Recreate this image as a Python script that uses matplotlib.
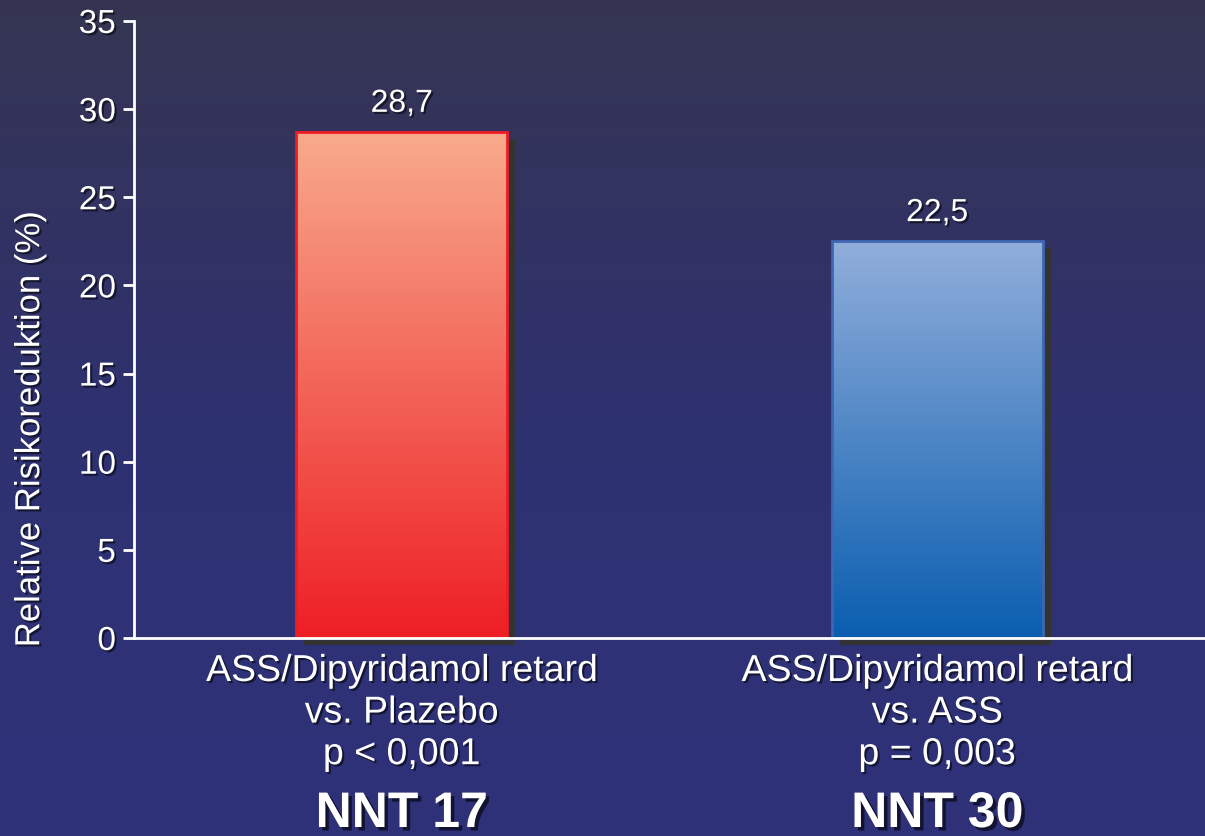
import numpy as np
import matplotlib.pyplot as plt
import matplotlib.patheffects as pe
import matplotlib.transforms as mtransforms
from matplotlib.colors import LinearSegmentedColormap

plt.rcParams['font.family'] = ['Liberation Sans', 'DejaVu Sans']

# data
categories = ['ASS/Dipyridamol retard\nvs. Plazebo\np < 0,001',
              'ASS/Dipyridamol retard\nvs. ASS\np = 0,003']
nnt_labels = ['NNT 17', 'NNT 30']
values = [28.7, 22.5]
value_labels = ['28,7', '22,5']
yticks = [0, 5, 10, 15, 20, 25, 30, 35]

bar_colors = [('#f8aa8c', '#ee1f25', '#ee1c25'),   # top, bottom, edge
              ('#91aedb', '#0a5eb0', '#3e66b2')]

shadow = [pe.SimplePatchShadow(offset=(1.5, -1.5), shadow_rgbFace='black', alpha=0.55), pe.Normal()]
shadow_big = [pe.SimplePatchShadow(offset=(2.5, -2.5), shadow_rgbFace='black', alpha=0.6), pe.Normal()]

fig = plt.figure(figsize=(12.05, 8.37), dpi=100)

# background gradient
bg = fig.add_axes([0, 0, 1, 1], zorder=-10)
grad = np.linspace(0, 1, 256).reshape(-1, 1)
bg_cmap = LinearSegmentedColormap.from_list('bg', ['#353552', '#2f3170', '#2e3279'])
bg.imshow(grad, aspect='auto', cmap=bg_cmap, extent=(0, 1, 0, 1), origin='upper')
bg.axis('off')

ax = fig.add_axes([134 / 1205, 1 - 639 / 837, 1 - 134 / 1205, (639 - 22) / 837])
ax.patch.set_alpha(0)

x = np.arange(len(values))
width = 0.394
shadow_tr = mtransforms.offset_copy(ax.transData, fig=fig, x=8, y=-7, units='dots')
for i, v in enumerate(values):
    top, bottom, edge = bar_colors[i]
    # drop shadow behind bar
    ax.bar(x[i], v, width, color='#333333', transform=shadow_tr, clip_on=False, zorder=1)
    b = ax.bar(x[i], v, width, facecolor='none', edgecolor=edge, linewidth=2, zorder=3)[0]
    cmap = LinearSegmentedColormap.from_list('g%d' % i, [top, bottom])
    im = ax.imshow(grad, aspect='auto', cmap=cmap, origin='upper',
                   extent=(x[i] - width / 2, x[i] + width / 2, 0, v), zorder=2)
    im.set_clip_path(b)
    ax.text(x[i], v + 0.75, value_labels[i], ha='center', va='bottom', color='white',
            fontsize=23, path_effects=shadow)

ax.set_xlim(-0.5, 1.5)
ax.set_ylim(0, 35)

for s in ['top', 'right']:
    ax.spines[s].set_visible(False)
for s in ['left', 'bottom']:
    ax.spines[s].set_color('white')
    ax.spines[s].set_linewidth(2)
    ax.spines[s].set_zorder(5)
ax.set_xticks([])
ax.set_yticks(yticks)
ax.tick_params(axis='y', colors='white', length=8, width=2, labelsize=24, pad=5)
for lab in ax.get_yticklabels():
    lab.set_path_effects(shadow)

ax.set_ylabel('Relative Risikoreduktion (%)', color='white', fontsize=25,
              path_effects=shadow)
ax.yaxis.set_label_coords(-0.082, 0.339)

tr = mtransforms.blended_transform_factory(ax.transData, fig.transFigure)
for i in range(len(values)):
    ax.text(x[i], 1 - 654 / 837, categories[i], transform=tr, ha='center', va='top',
            color='white', fontsize=27, linespacing=1.2, path_effects=shadow)
    ax.text(x[i], 1 - 815 / 837, nnt_labels[i], transform=tr, ha='center', va='center',
            color='white', fontsize=36, fontweight='bold', path_effects=shadow_big)

fig.savefig('out.png', dpi=100)
